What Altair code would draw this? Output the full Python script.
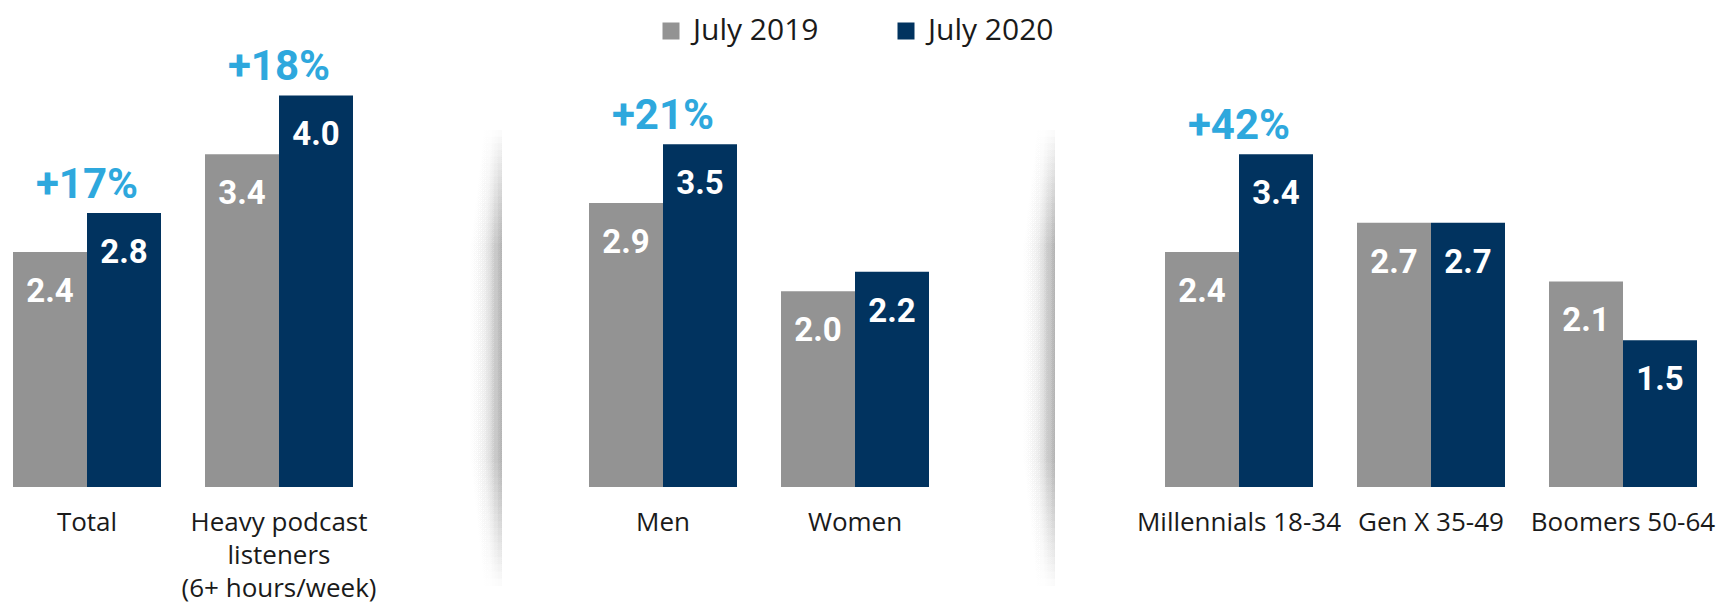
import altair as alt
import pandas as pd

# ---------------- data ----------------
groups = ["Total", "Heavy podcast|listeners|(6+ hours/week)", "Men", "Women",
          "Millennials 18-34", "Gen X 35-49", "Boomers 50-64"]
slot_order = ["Total", "Heavy podcast|listeners|(6+ hours/week)", "_gap1",
              "Men", "Women", "_gap2",
              "Millennials 18-34", "Gen X 35-49", "Boomers 50-64"]
years = ["July 2019", "July 2020"]
values_2019 = [2.4, 3.4, 2.9, 2.0, 2.4, 2.7, 2.1]
values_2020 = [2.8, 4.0, 3.5, 2.2, 3.4, 2.7, 1.5]
change_groups = ["Total", "Heavy podcast|listeners|(6+ hours/week)", "Men", "Millennials 18-34"]
change_labels = ["+17%", "+18%", "+21%", "+42%"]

GRAY = "#939393"
NAVY = "#01335F"
BLUE = "#2EA8DD"

rows = []
for g, a, b in zip(groups, values_2019, values_2020):
    rows.append({"group": g, "year": years[0], "value": a})
    rows.append({"group": g, "year": years[1], "value": b})
bars_df = pd.DataFrame(rows)

v2020 = dict(zip(groups, values_2020))
change_df = pd.DataFrame({
    "group": change_groups,
    "label": change_labels,
    "value": [v2020[g] for g in change_groups],
})

# ---------------- encodings ----------------
x_enc = alt.X(
    "group:N",
    scale=alt.Scale(domain=slot_order, paddingInner=44 / 192, paddingOuter=0),
    axis=alt.Axis(
        title=None, ticks=False, domain=False, grid=False, labelAngle=0,
        labelExpr="slice(datum.value, 0, 1) == '_' ? '' : split(datum.value, '|')",
        labelFont="Open Sans", labelFontSize=26, labelColor="#1a1a1a",
        labelPadding=22, labelLineHeight=33, labelLimit=400, labelOverlap=False,
    ),
)
y_enc = alt.Y("value:Q", scale=alt.Scale(domain=[0, 4.893], nice=False, zero=True), axis=None)
xoff_enc = alt.XOffset("year:N", scale=alt.Scale(domain=years, paddingInner=0, paddingOuter=0))

bars = alt.Chart(bars_df).mark_bar().encode(
    x=x_enc,
    xOffset=xoff_enc,
    y=y_enc,
    color=alt.Color(
        "year:N",
        scale=alt.Scale(domain=years, range=[GRAY, NAVY]),
        legend=alt.Legend(
            orient="none", legendX=643, legendY=8, direction="horizontal",
            title=None, symbolType="square", symbolSize=289, symbolStrokeWidth=0,
            labelFont="Open Sans", labelFontSize=30, labelColor="#1a1a1a",
            columnPadding=72, labelOffset=7, padding=0, labelLimit=300,
        ),
    ),
)

value_text = alt.Chart(bars_df).mark_text(
    color="white", font="Roboto", fontWeight="bold", fontSize=33,
    baseline="alphabetic", dy=50,
).encode(
    x=x_enc, xOffset=xoff_enc, y=y_enc,
    text=alt.Text("value:Q", format=".1f"),
)

change_text = alt.Chart(change_df).mark_text(
    color=BLUE, font="Roboto", fontWeight="bold", fontSize=42,
    baseline="alphabetic", dy=-15,
).encode(x=x_enc, y=y_enc, text="label:N")

# ---------------- panel edge shadows (decoration) ----------------
shadow_fill = alt.LinearGradient(
    gradient="linear",
    stops=[
        alt.GradientStop(color="rgba(0,0,0,0)", offset=0),
        alt.GradientStop(color="rgba(0,0,0,0.004)", offset=0.5),
        alt.GradientStop(color="rgba(0,0,0,0.019)", offset=1),
    ],
    x1=0, x2=1, y1=0, y2=0,
)
n_layers = 18
shadow_layers = []
for edge in [489, 1042]:
    for i in range(n_layers):
        t = i / (n_layers - 1)
        top = 122 + t * (235 - 122)
        bottom = 578 - t * (578 - 455)
        w = 24 + t * 18
        shadow_layers.append(
            alt.Chart(pd.DataFrame({"s": [0]})).mark_rect(fill=shadow_fill).encode(
                x=alt.value(edge - w), x2=alt.value(edge),
                y=alt.value(top), y2=alt.value(bottom),
            )
        )

chart = alt.layer(*shadow_layers, bars, value_text, change_text).properties(
    width=1684, height=479,
    autosize=alt.AutoSizeParams(type="none"),
    padding={"left": 5, "top": 0, "right": 24, "bottom": 116},
    background="white",
).configure_view(stroke=None)

chart.save("out.html", embed_options={"renderer": "svg", "actions": False})
